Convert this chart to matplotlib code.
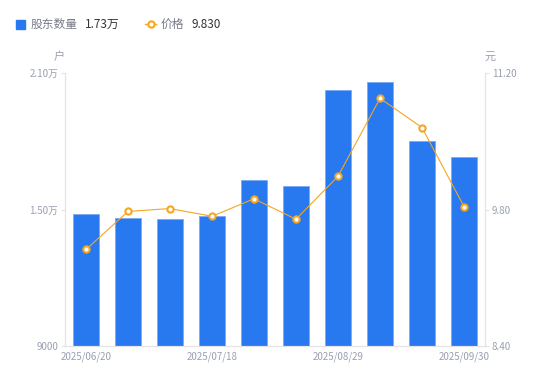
import matplotlib.pyplot as plt
import numpy as np

plt.rcParams['font.family'] = ['Noto Sans CJK SC', 'DejaVu Sans']

# data
dates = ['2025/06/20', '2025/06/30', '2025/07/10', '2025/07/18', '2025/07/31',
         '2025/08/15', '2025/08/29', '2025/09/10', '2025/09/19', '2025/09/30']
holders = [14800, 14630, 14570, 14710, 16300, 16030, 20250, 20600, 18010, 17300]
price = [9.39, 9.78, 9.81, 9.73, 9.91, 9.70, 10.14, 10.94, 10.64, 9.83]
left_ticks = [9000, 15000, 21000]
left_labels = ['9000', '1.50万', '2.10万']
right_ticks = [8.40, 9.80, 11.20]

blue = '#2878F0'
orange = '#F5A623'
gray = '#9a9fb0'
axis_col = '#e3e3e8'

fig = plt.figure(figsize=(5.5, 3.81), dpi=100)
ax = fig.add_axes([65 / 550, 1 - 346 / 381, 420 / 550, 273 / 381])
x = np.arange(len(dates))

ax.bar(x, holders, width=0.6, color=blue, edgecolor='#7aaaf5', linewidth=0.6, zorder=2)
ax.set_xlim(-0.5, len(dates) - 0.5)
ax.set_ylim(left_ticks[0], left_ticks[-1])
ax.set_yticks(left_ticks)
ax.set_yticklabels(left_labels)

ax2 = ax.twinx()
ax2.plot(x, price, color=orange, lw=0.8, marker='o', ms=4.5, mfc='white',
         mec=orange, mew=1.5, zorder=3)
ax2.set_ylim(right_ticks[0], right_ticks[-1])
ax2.set_yticks(right_ticks)
ax2.set_yticklabels([f'{v:.2f}' for v in right_ticks])

idx = [0, 3, 6, 9]
ax.set_xticks(idx)
ax.set_xticklabels([dates[i] for i in idx])

for a in (ax, ax2):
    for s in a.spines.values():
        s.set_color(axis_col)
        s.set_linewidth(0.8)
    a.spines['top'].set_visible(False)
    a.tick_params(colors=axis_col, labelcolor=gray, labelsize=7, length=3, width=0.8, pad=2)
ax.tick_params(axis='x', length=0, pad=4)

fig.text(59 / 550, 1 - 57 / 381, '户', color=gray, fontsize=8, ha='center', va='center')
fig.text(490 / 550, 1 - 57 / 381, '元', color=gray, fontsize=8, ha='center', va='center')

# legend row
fig.patches.append(plt.Rectangle((16 / 550, 1 - 29 / 381), 9 / 550, 9 / 381,
                                 transform=fig.transFigure, color=blue))
fig.text(31 / 550, 1 - 24 / 381, '股东数量', color='#777b88', fontsize=8.5, va='center')
fig.text(85 / 550, 1 - 24 / 381, '1.73万', color='#333333', fontsize=8.5, va='center')
fig.lines.append(plt.Line2D([145 / 550, 156 / 550], [1 - 24 / 381] * 2, transform=fig.transFigure,
                            color=orange, lw=1))
fig.lines.append(plt.Line2D([150.5 / 550], [1 - 24 / 381], transform=fig.transFigure,
                            marker='o', ms=4.5, mfc='white', mec=orange, mew=1.5))
fig.text(161 / 550, 1 - 24 / 381, '价格', color='#777b88', fontsize=8.5, va='center')
fig.text(191 / 550, 1 - 24 / 381, '9.830', color='#333333', fontsize=8.5, va='center')

fig.savefig('out.png', dpi=100)
